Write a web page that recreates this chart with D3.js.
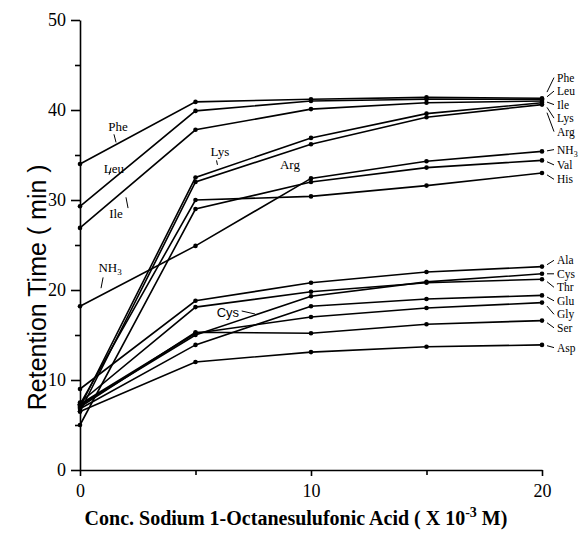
<!DOCTYPE html>
<html>
<head>
<meta charset="utf-8">
<script src="https://cdn.jsdelivr.net/npm/d3@7"></script>
<style>
  body { margin: 0; background: #fff; }
  svg { display: block; }
</style>
</head>
<body>
<div id="chart"></div>
<script>
// concentration of sodium 1-octanesulfonate (x 10^-3 M)
var conc = [0, 5, 10, 15, 20];

// retention times (min)
var phe = [34.0, 40.9, 41.2, 41.4, 41.3];
var leu = [29.3, 39.9, 41.0, 41.2, 41.2];
var ile = [26.9, 37.8, 40.1, 40.8, 41.0];
var lys = [7.0, 32.5, 36.9, 39.6, 40.8];
var arg = [6.5, 32.0, 36.2, 39.2, 40.6];
var nh3 = [18.2, 24.9, 32.4, 34.3, 35.4];
var val = [5.0, 29.0, 32.0, 33.6, 34.4];
var his = [7.3, 30.0, 30.4, 31.6, 33.0];
var ala = [9.0, 18.8, 20.8, 22.0, 22.6];
var cys = [7.2, 15.0, 19.3, 20.9, 21.8];
var thr = [7.5, 18.1, 19.8, 20.8, 21.2];
var glu = [6.8, 13.9, 18.2, 19.0, 19.4];
var gly = [7.3, 15.2, 17.0, 18.0, 18.6];
var ser = [7.0, 15.3, 15.2, 16.2, 16.6];
var asp = [6.5, 12.0, 13.1, 13.7, 13.9];

var names = ['Phe', 'Leu', 'Ile', 'Lys', 'Arg', 'NH3', 'Val', 'His',
  'Ala', 'Cys', 'Thr', 'Glu', 'Gly', 'Ser', 'Asp'];
var values = [phe, leu, ile, lys, arg, nh3, val, his,
  ala, cys, thr, glu, gly, ser, asp];

// where the right-hand labels sit (retention time units)
var labelAt = [43.6, 42.1, 40.6, 39.1, 37.6, 35.6, 33.9, 32.3,
  23.3, 21.8, 20.3, 18.8, 17.3, 15.8, 13.6];

var yTicks = [0, 10, 20, 30, 40, 50];
var yMinor = [5, 15, 25, 35, 45];
var xTicks = [0, 10, 20];
var xMinor = [5, 15];

var width = 583;
var height = 537;

var svg = d3.select('#chart')
    .append('svg')
    .attr('width', width)
    .attr('height', height);

var x = d3.scaleLinear().domain([0, 20]).range([80, 542]);
var y = d3.scaleLinear().domain([0, 50]).range([470, 20]);

// Axes
var serif = '"Liberation Serif", "Times New Roman", serif';

svg.append('g')
    .attr('transform', 'translate(80,0)')
    .call(d3.axisLeft(y).tickValues(yMinor).tickSize(5).tickFormat(''))
    .call(function(g) { g.select('.domain').remove(); });

svg.append('g')
    .attr('transform', 'translate(80,0)')
    .call(d3.axisLeft(y).tickValues(yTicks).tickSize(9).tickSizeOuter(0)
        .tickPadding(5).tickFormat(d3.format('d')))
    .call(function(g) {
      g.selectAll('text').style('font-family', serif).style('font-size', '18px');
    });

svg.append('g')
    .attr('transform', 'translate(0,470)')
    .call(d3.axisBottom(x).tickValues(xMinor).tickSize(5).tickFormat(''))
    .call(function(g) { g.select('.domain').remove(); });

svg.append('g')
    .attr('transform', 'translate(0,470)')
    .call(d3.axisBottom(x).tickValues(xTicks).tickSize(6).tickSizeOuter(0)
        .tickPadding(8).tickFormat(d3.format('d')))
    .call(function(g) {
      g.selectAll('text').style('font-family', serif).style('font-size', '18px');
    });

svg.selectAll('.domain, .tick line')
    .attr('stroke', '#000')
    .attr('stroke-width', 1.6);

// Axis titles
svg.append('text')
    .attr('transform', 'translate(46,' + y(20.3) + ') rotate(-90)')
    .attr('text-anchor', 'middle')
    .style('font-family', '"Liberation Sans", Arial, sans-serif')
    .style('font-size', '25px')
    .text('Retention Time ( min )');

var xt = svg.append('text')
    .attr('x', 296)
    .attr('y', 525)
    .attr('text-anchor', 'middle')
    .style('font-family', serif)
    .style('font-size', '20px')
    .style('font-weight', 'bold');
xt.append('tspan').text('Conc. Sodium 1-Octanesulufonic Acid ( X 10');
xt.append('tspan').attr('dy', -8).style('font-size', '14px').text('-3');
xt.append('tspan').attr('dy', 8).text(' M)');

// Lines and points
var line = d3.line()
    .x(function(d, i) { return x(conc[i]); })
    .y(function(d) { return y(d); });

svg.selectAll('path.series')
    .data(values)
    .enter()
    .append('path')
    .attr('class', 'series')
    .attr('d', line)
    .attr('fill', 'none')
    .attr('stroke', '#000')
    .attr('stroke-width', 1.6);

values.forEach(function(s) {
  svg.selectAll(null)
      .data(s)
      .enter()
      .append('circle')
      .attr('cx', function(d, i) { return x(conc[i]); })
      .attr('cy', function(d) { return y(d); })
      .attr('r', 2.3)
      .attr('fill', '#000');
});

// Right-hand labels with leaders
function addLabel(sel, name, sub) {
  if (name === 'NH3') {
    sel.append('tspan').text('NH');
    sel.append('tspan').attr('dy', 3).style('font-size', sub).text('3');
  } else {
    sel.text(name);
  }
}

names.forEach(function(name, i) {
  var yEnd = y(values[i][4]);
  var yLab = y(labelAt[i]);
  svg.append('line')
      .attr('x1', x(20) + 5)
      .attr('y1', yEnd + (yLab - yEnd) * 0.3)
      .attr('x2', x(20) + 12)
      .attr('y2', yLab)
      .attr('stroke', '#000')
      .attr('stroke-width', 1);
  var t = svg.append('text')
      .attr('x', x(20) + 15)
      .attr('y', yLab + 4)
      .style('font-family', serif)
      .style('font-size', '11.5px');
  addLabel(t, name, '8px');
});

// Labels inside the plot
var inner = [
  {name: 'Phe', x: 1.65, y: 37.7, leader: [1.47, 37.3, 1.56, 36.4]},
  {name: 'Leu', x: 1.47, y: 33.0, leader: [1.34, 33.6, 1.26, 32.8]},
  {name: 'Ile', x: 1.56, y: 28.0, leader: [1.99, 30.3, 2.08, 29.1]},
  {name: 'NH3', x: 1.3, y: 22.0, leader: [1.0, 21.4, 0.91, 20.2]},
  {name: 'Lys', x: 6.06, y: 34.9, leader: [5.91, 34.4, 5.95, 33.9]},
  {name: 'Arg', x: 9.09, y: 33.5, leader: null},
  {name: 'Cys', x: 6.4, y: 17.0, leader: [7.0, 17.67, 7.58, 17.33]}
];

inner.forEach(function(d) {
  var t = svg.append('text')
      .attr('x', x(d.x))
      .attr('y', y(d.y))
      .attr('text-anchor', 'middle')
      .style('font-family', d.name === 'Cys' ? '"Liberation Sans", Arial, sans-serif' : serif)
      .style('font-size', '13px');
  addLabel(t, d.name, '9px');
  if (d.leader) {
    svg.append('line')
        .attr('x1', x(d.leader[0]))
        .attr('y1', y(d.leader[1]))
        .attr('x2', x(d.leader[2]))
        .attr('y2', y(d.leader[3]))
        .attr('stroke', '#000')
        .attr('stroke-width', 1);
  }
});
</script>
</body>
</html>
